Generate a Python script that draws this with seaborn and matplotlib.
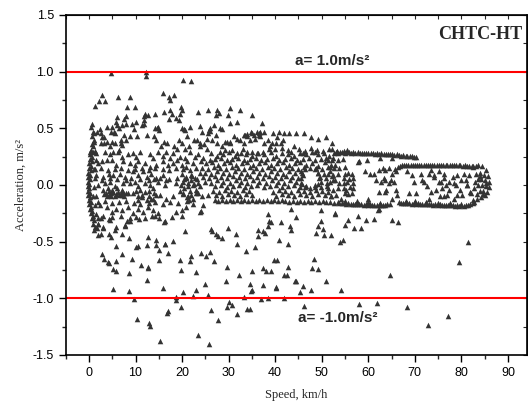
import pandas as pd
import seaborn as sns
import matplotlib.pyplot as plt
from matplotlib.ticker import MultipleLocator

sns.set_style('ticks')
plt.rcParams['font.family'] = ['Liberation Sans', 'DejaVu Sans']

# (speed km/h, acceleration m/s^2), grouped by region
upper_sparse = [
    (4.7, 0.99), (12.3, 1.0), (12.3, 0.96), (20.1, 0.93), (22.0, 0.915),
    (2.9, 0.79), (2.2, 0.745), (3.4, 0.745), (1.3, 0.70), (6.2, 0.775), (8.9, 0.775), (8.1, 0.685), (9.9, 0.685),
    (15.9, 0.815), (17.3, 0.775), (18.2, 0.795), (17.5, 0.75), (19.7, 0.685), (19.9, 0.66), (16.1, 0.645),
    (17.9, 0.625), (17.5, 0.66), (12.1, 0.63), (11.8, 0.61), (12.6, 0.62), (14.1, 0.625), (11.9, 0.57),
    (11.8, 0.54), (10.1, 0.56), (9.2, 0.535), (11.4, 0.53), (8.0, 0.61), (7.5, 0.58), (8.0, 0.54), (6.1, 0.60),
    (5.8, 0.56), (7.1, 0.53), (6.1, 0.53), (5.0, 0.515), (3.9, 0.515), (6.4, 0.50), (0.7, 0.54), (0.5, 0.515),
    (14.2, 0.50), (14.8, 0.515), (17.2, 0.58), (18.6, 0.59), (19.3, 0.57), (19.6, 0.63), (20.0, 0.505),
    (21.8, 0.515), (23.8, 0.52), (26.1, 0.505), (23.4, 0.64), (25.5, 0.66), (27.5, 0.66), (27.9, 0.635),
    (27.2, 0.62), (30.2, 0.68), (32.5, 0.66), (35.0, 0.62), (37.2, 0.55), (26.8, 0.53), (30.4, 0.545),
    (31.8, 0.56), (29.8, 0.62), (28.6, 0.49), (26.0, 0.48), (25.5, 0.46), (27.2, 0.44),
    (0.95, 0.47), (1.8, 0.47), (2.5, 0.455), (2.7, 0.42), (3.2, 0.42), (3.9, 0.38), (5.0, 0.38), (5.7, 0.37),
    (6.8, 0.37), (5.4, 0.47), (5.7, 0.455), (15.0, 0.485), (20.6, 0.485), (24.2, 0.47), (25.7, 0.485),
    (28.2, 0.50), (33.6, 0.44), (35.0, 0.455), (36.1, 0.47), (36.5, 0.44),
    (8.9, 0.43), (7.9, 0.40), (10.4, 0.43), (12.5, 0.44), (13.9, 0.43), (14.3, 0.40), (15.4, 0.34), (16.1, 0.38),
    (16.8, 0.37), (18.2, 0.34), (19.3, 0.40), (20.0, 0.37), (20.7, 0.32), (21.4, 0.34), (22.5, 0.40),
    (23.9, 0.34), (24.8, 0.36), (25.4, 0.32), (26.4, 0.40), (27.5, 0.37), (28.6, 0.34), (29.7, 0.38),
    (30.4, 0.37), (31.1, 0.43), (32.5, 0.40), (34.0, 0.43), (35.4, 0.44), (36.8, 0.47),
    (4.7, 0.47), (7.5, 0.44), (9.6, 0.49), (14.6, 0.50), (23.2, 0.40), (23.9, 0.37), (25.4, 0.41), (21.1, 0.43),
    (18.9, 0.32), (20.4, 0.49), (2.5, 0.37), (3.2, 0.37), (4.6, 0.34), (6.4, 0.31), (7.1, 0.35), (6.8, 0.40),
    (1.1, 0.46), (2.4, 0.49),
    (31.7, 0.41), (33.2, 0.44), (33.9, 0.45), (34.8, 0.47), (36.5, 0.46),
    (37.7, 0.47), (39.5, 0.46), (40.9, 0.47), (42.0, 0.46), (43.0, 0.46), (44.5, 0.455), (46.3, 0.455),
    (47.7, 0.425), (49.1, 0.41), (50.9, 0.42), (52.3, 0.37), (38.4, 0.40), (40.5, 0.425), (41.6, 0.40),
    (38.8, 0.34), (40.2, 0.37),
    (29.3, 0.38), (30.4, 0.38), (33.2, 0.37), (34.7, 0.40), (35.7, 0.41), (36.7, 0.43), (37.5, 0.37),
    (39.3, 0.37), (41.2, 0.37), (28.1, 0.29), (29.3, 0.31), (30.7, 0.31), (31.9, 0.28), (33.1, 0.32),
    (34.0, 0.29), (35.0, 0.29), (36.2, 0.28), (37.4, 0.29), (38.6, 0.32), (40.0, 0.32),
    (52.2, 0.32), (53.3, 0.30), (54.7, 0.30), (55.4, 0.31),
    (41.5, 0.33), (42.8, 0.31), (44.0, 0.34), (45.2, 0.32), (46.5, 0.30), (47.8, 0.33), (49.0, 0.31),
    (50.3, 0.30), (51.5, 0.32), (43.5, 0.29), (46.0, 0.28), (48.5, 0.29),
]

lower_sparse = [
    (1.9, -0.29), (1.9, -0.34), (1.65, -0.38), (2.6, -0.29), (4.4, -0.30), (2.0, -0.44), (2.6, -0.43),
    (3.1, -0.38), (4.4, -0.43), (4.7, -0.46), (5.7, -0.40), (7.0, -0.43), (7.7, -0.36), (8.1, -0.32),
    (8.8, -0.29), (8.6, -0.47), (10.8, -0.30), (12.7, -0.46), (14.2, -0.27), (14.5, -0.485), (16.2, -0.33),
    (16.4, -0.52), (18.1, -0.49), (20.7, -0.41), (26.5, -0.41), (27.2, -0.435), (27.7, -0.45), (28.5, -0.47),
    (29.9, -0.38), (31.5, -0.43), (31.7, -0.52), (33.7, -0.58), (35.7, -0.55), (36.3, -0.40), (36.3, -0.45),
    (37.4, -0.41), (37.9, -0.42), (38.5, -0.36), (39.0, -0.33), (41.3, -0.33), (40.8, -0.485), (42.8, -0.52),
    (43.1, -0.36), (43.5, -0.40),
    (2.9, -0.61), (3.2, -0.65), (4.2, -0.69), (5.9, -0.54), (5.8, -0.67), (7.0, -0.61), (9.2, -0.65),
    (10.1, -0.55), (10.6, -0.54), (12.5, -0.53), (14.4, -0.53), (15.1, -0.57), (15.1, -0.66), (16.3, -0.52),
    (17.0, -0.60), (19.5, -0.66), (21.8, -0.67), (22.0, -0.63), (24.0, -0.60), (25.1, -0.63), (26.1, -0.59),
    (26.9, -0.67), (29.7, -0.72), (32.3, -0.79), (35.0, -0.76), (37.4, -0.735), (38.0, -0.76), (39.2, -0.76),
    (39.7, -0.66), (40.3, -0.66), (42.8, -0.72), (42.0, -0.79), (42.5, -0.79),
    (5.2, -0.74), (5.8, -0.76), (8.6, -0.78), (11.1, -0.71), (12.6, -0.72), (12.6, -0.735), (12.5, -0.84),
    (15.8, -0.91), (19.7, -0.75), (22.9, -0.77), (25.0, -0.87), (29.4, -0.85), (34.7, -0.87), (34.9, -0.935),
    (35.1, -0.925), (37.3, -0.88), (40.1, -0.905), (44.3, -0.85), (4.0, -0.68),
    (5.2, -0.92), (8.6, -0.935), (9.6, -1.005), (18.8, -0.985), (18.7, -1.015), (20.1, -0.94), (22.4, -0.98),
    (23.1, -0.93), (25.6, -0.97), (30.1, -1.03), (30.8, -1.06), (33.2, -0.985), (36.9, -1.005), (38.4, -0.995),
    (41.9, -0.995), (29.7, -1.08), (26.3, -1.10), (27.7, -1.19), (31.8, -1.14), (34.0, -1.095), (34.6, -1.095),
    (19.8, -1.08), (17.0, -1.11), (16.7, -1.13), (10.4, -1.18), (12.9, -1.22), (13.1, -1.245), (15.2, -1.375),
    (23.5, -1.32), (25.8, -1.40),
    (44.5, -0.285), (49.3, -0.36), (50.3, -0.39), (48.8, -0.42), (50.4, -0.44), (52.1, -0.445), (49.8, -0.22),
    (52.9, -0.255), (55.6, -0.31), (55.0, -0.35), (57.0, -0.38), (58.4, -0.38), (59.5, -0.31), (61.3, -0.30),
    (65.1, -0.31), (66.3, -0.33), (62.2, -0.215), (54.6, -0.485), (54.0, -0.50), (81.4, -0.50), (48.3, -0.65),
    (48.0, -0.735), (49.1, -0.745), (44.5, -0.845), (45.9, -0.89), (45.4, -0.94), (47.8, -0.93), (50.9, -0.85),
    (54.2, -0.93), (64.6, -0.79), (79.5, -0.68), (58.0, -1.05), (61.8, -1.04), (68.4, -1.08), (77.1, -1.16),
    (72.9, -1.235), (46.3, -1.07), (43.5, -0.21), (40.2, -0.90),
    (23.8, -0.24), (24.5, -0.18), (25.6, -0.09), (23.5, -0.07), (24.2, -0.10), (38.5, -0.26), (38.7, -0.32),
    (49.9, -0.32), (26.3, -0.39), (24.0, -0.23),
]

left_band = [
    (1.0, 0.40), (0.6, 0.36), (0.9, 0.34), (0.4, 0.31), (0.8, 0.29), (0.3, 0.27), (0.7, 0.25), (0.2, 0.23),
    (0.6, 0.21), (0.1, 0.19), (0.5, 0.17), (0.0, 0.15), (0.4, 0.13), (-0.1, 0.11), (0.3, 0.09), (-0.2, 0.07),
    (0.2, 0.05), (-0.3, 0.03), (0.1, 0.01), (-0.3, -0.01), (0.1, -0.03), (-0.2, -0.05), (0.2, -0.07),
    (-0.1, -0.09), (0.3, -0.11), (0.0, -0.13), (0.4, -0.15), (0.1, -0.17), (0.5, -0.19), (0.2, -0.21),
    (0.6, -0.23), (0.4, -0.25), (0.8, -0.27), (0.6, -0.29), (1.0, -0.31), (0.9, -0.34), (1.3, -0.37),
    (1.1, -0.40), (1.3, 0.30), (1.5, 0.22), (1.2, 0.14), (1.4, 0.06), (1.1, -0.02), (1.5, -0.10),
    (1.2, -0.18), (1.6, -0.26), (1.1, 0.38), (0.7, 0.43),
]

left_cloud = [
    (0.2, 0.29), (1.6, 0.28), (3.4, 0.29), (4.5, 0.27), (5.2, 0.29), (6.3, 0.29), (7.0, 0.25), (8.4, 0.27),
    (9.5, 0.28), (10.2, 0.25), (10.9, 0.29), (13.1, 0.27), (13.8, 0.24), (14.9, 0.29), (16.6, 0.29),
    (18.1, 0.28), (19.5, 0.25), (20.6, 0.24), (21.6, 0.29), (22.7, 0.25),
    (2.0, 0.19), (2.7, 0.21), (3.8, 0.22), (4.9, 0.22), (5.9, 0.18), (7.4, 0.21), (8.8, 0.19), (9.9, 0.18),
    (10.6, 0.21), (12.0, 0.19), (13.1, 0.16), (14.5, 0.18), (15.9, 0.21), (17.0, 0.18), (18.1, 0.19),
    (19.9, 0.18), (20.9, 0.16), (22.4, 0.19),
    (1.6, 0.09), (3.1, 0.07), (4.2, 0.10), (5.2, 0.09), (6.6, 0.10), (7.7, 0.07), (9.5, 0.12), (10.6, 0.09),
    (11.7, 0.12), (12.4, 0.07), (13.4, 0.10), (14.5, 0.06), (15.9, 0.09), (16.6, 0.04), (19.9, 0.10),
    (20.9, 0.07), (22.0, 0.09), (22.7, 0.06),
    (2.0, 0.0), (3.4, 0.02), (4.5, 0.03), (5.6, -0.01), (7.4, 0.02), (8.8, 0.02), (9.9, 0.03), (10.6, -0.01),
    (12.0, 0.02), (13.1, 0.0), (13.8, -0.03), (14.9, 0.03), (16.3, 0.0), (18.8, 0.02), (20.2, 0.03),
    (21.3, -0.01), (22.4, 0.0),
    (3.1, -0.04), (3.6, -0.07), (4.2, -0.05), (4.7, -0.07), (5.2, -0.06), (5.8, -0.08), (6.3, -0.06),
    (6.8, -0.07), (7.4, -0.06), (7.9, -0.07), (3.2, -0.08), (4.4, -0.09), (5.6, -0.10), (7.0, -0.09),
    (8.4, -0.07), (4.0, -0.03), (5.0, -0.04), (6.0, -0.03), (7.0, -0.04), (6.5, -0.09), (4.8, -0.10),
    (3.8, -0.10), (7.6, -0.10),
    (0.9, -0.10), (9.5, -0.07), (10.6, -0.10), (11.3, -0.09), (12.4, -0.13), (13.4, -0.12), (14.1, -0.15),
    (15.2, -0.09), (16.6, -0.12), (18.1, -0.10), (20.2, -0.07), (21.3, -0.10), (22.4, -0.12), (23.1, -0.07),
    (10.0, -0.05), (11.0, -0.04), (12.0, -0.06), (13.0, -0.05), (14.0, -0.07), (10.5, -0.13), (11.5, -0.11),
    (12.8, -0.10), (13.8, -0.12), (14.5, -0.09),
    (2.4, -0.18), (3.8, -0.19), (4.9, -0.24), (5.9, -0.21), (7.0, -0.22), (8.4, -0.19), (9.5, -0.25),
    (10.6, -0.21), (11.7, -0.24), (12.7, -0.19), (13.8, -0.22), (14.9, -0.25), (18.8, -0.24), (19.9, -0.22),
    (20.9, -0.19),
    (2.0, -0.34), (3.1, -0.37), (4.5, -0.31), (5.9, -0.37), (7.7, -0.35), (8.8, -0.32), (16.3, -0.32),
    (1.0, 0.14), (2.6, 0.15), (4.0, 0.13), (5.5, 0.14), (6.9, 0.15), (8.3, 0.13), (9.8, 0.14), (11.4, 0.15),
    (12.9, 0.13), (14.2, 0.15), (15.8, 0.14), (17.3, 0.13), (18.7, 0.15), (20.1, 0.14), (21.6, 0.13),
    (23.0, 0.15),
    (2.7, 0.04), (4.6, 0.06), (6.0, 0.05), (8.0, 0.04), (9.0, 0.06), (11.0, 0.05), (12.8, 0.04), (14.0, 0.05),
    (15.3, 0.06), (17.2, 0.05), (18.9, 0.06), (20.5, 0.05), (21.9, 0.04), (23.3, 0.05),
    (2.0, -0.15), (3.5, -0.14), (5.0, -0.16), (6.5, -0.15), (8.0, -0.14), (9.6, -0.16), (11.0, -0.17),
    (13.0, -0.16), (15.8, -0.17), (17.5, -0.15), (19.2, -0.16), (21.0, -0.14), (22.3, -0.17),
    (3.0, -0.27), (5.0, -0.28), (6.8, -0.27), (10.0, -0.28), (12.0, -0.29), (13.5, -0.27), (15.0, -0.29),
    (17.8, -0.28), (20.0, -0.27),
    (19.8, 0.0), (20.5, -0.03), (21.2, 0.02), (21.8, -0.05), (22.5, 0.01), (20.2, -0.08), (21.0, -0.11),
    (22.0, -0.09), (23.0, -0.04), (20.8, 0.06), (22.2, 0.08), (23.4, 0.02), (19.5, -0.05), (21.5, -0.13),
    (16.0, 0.26), (17.5, 0.24), (19.0, 0.22), (21.0, 0.21), (23.5, 0.27), (24.0, 0.21), (23.8, 0.11),
    (23.9, -0.01),
]

mid_block = [
    (26.2, 0.28), (27.5, 0.26), (28.9, 0.27), (30.1, 0.29), (31.4, 0.26), (32.6, 0.28), (33.8, 0.27),
    (35.1, 0.26), (36.3, 0.28), (37.7, 0.27), (39.0, 0.29), (40.2, 0.26), (41.5, 0.28), (42.8, 0.27),
    (44.0, 0.26), (45.3, 0.28), (46.6, 0.27), (47.9, 0.29), (49.2, 0.27), (50.4, 0.28), (51.6, 0.26),
    (24.6, 0.24), (25.9, 0.22), (27.1, 0.23), (28.4, 0.24), (29.6, 0.22), (30.8, 0.23), (32.0, 0.24),
    (33.3, 0.22), (34.5, 0.23), (35.8, 0.24), (37.0, 0.22), (38.3, 0.23), (39.6, 0.24), (40.8, 0.22),
    (42.1, 0.23), (43.4, 0.24), (44.6, 0.22), (45.9, 0.23), (47.2, 0.24), (48.5, 0.22), (49.8, 0.23),
    (51.0, 0.24), (52.3, 0.22),
    (25.2, 0.19), (26.5, 0.20), (27.8, 0.18), (29.0, 0.19), (30.3, 0.20), (31.5, 0.18), (32.8, 0.19),
    (34.0, 0.20), (35.3, 0.18), (36.6, 0.19), (37.9, 0.20), (39.1, 0.18), (40.4, 0.19), (41.7, 0.20),
    (43.0, 0.18), (44.2, 0.19), (45.4, 0.20), (46.7, 0.18), (48.0, 0.19), (49.3, 0.17), (50.6, 0.20),
    (51.9, 0.18),
    (24.3, 0.15), (25.6, 0.14), (26.9, 0.16), (28.2, 0.15), (29.5, 0.14), (30.7, 0.16), (32.0, 0.15),
    (33.2, 0.14), (34.6, 0.16), (35.9, 0.15), (37.2, 0.14), (38.5, 0.16), (39.8, 0.15), (41.1, 0.14),
    (42.3, 0.16), (43.6, 0.15), (44.9, 0.14), (46.2, 0.16), (48.7, 0.15), (50.0, 0.14), (51.3, 0.16),
    (52.6, 0.15),
    (24.9, 0.11), (26.2, 0.10), (27.5, 0.12), (28.8, 0.11), (30.0, 0.10), (31.3, 0.12), (32.6, 0.11),
    (33.9, 0.10), (35.2, 0.12), (36.5, 0.11), (37.8, 0.10), (39.1, 0.12), (40.3, 0.11), (41.6, 0.10),
    (42.9, 0.12), (44.2, 0.11), (45.5, 0.12), (49.2, 0.11), (50.5, 0.10), (51.8, 0.12),
    (24.4, 0.07), (25.7, 0.06), (27.0, 0.08), (28.3, 0.07), (29.6, 0.06), (30.9, 0.08), (32.2, 0.07),
    (33.5, 0.06), (34.7, 0.08), (36.0, 0.07), (37.3, 0.06), (38.6, 0.08), (39.9, 0.07), (41.2, 0.06),
    (42.4, 0.08), (43.7, 0.07), (45.0, 0.06), (46.0, 0.09), (49.6, 0.07), (50.9, 0.06), (52.2, 0.08),
    (25.0, 0.03), (26.3, 0.02), (27.6, 0.04), (28.9, 0.03), (30.2, 0.02), (31.5, 0.04), (32.7, 0.03),
    (34.0, 0.02), (35.3, 0.04), (36.6, 0.03), (38.0, 0.02), (39.3, 0.04), (40.6, 0.03), (41.9, 0.02),
    (43.2, 0.04), (44.5, 0.03), (45.6, 0.02), (49.9, 0.03), (51.2, 0.02), (52.5, 0.04),
    (27.1, -0.01), (28.4, 0.0), (29.7, -0.02), (31.0, -0.01), (32.3, 0.0), (33.6, -0.02), (34.9, -0.01),
    (36.2, 0.0), (37.5, -0.02), (38.8, -0.01), (40.1, 0.0), (41.4, -0.02), (42.7, -0.01), (44.0, 0.0),
    (45.3, -0.02), (46.6, -0.01), (48.5, 0.0), (49.8, -0.02), (51.1, -0.01),
    (26.6, -0.05), (27.9, -0.06), (29.2, -0.04), (30.5, -0.05), (31.8, -0.06), (33.1, -0.04), (34.4, -0.05),
    (39.6, -0.06), (40.9, -0.04), (42.2, -0.05), (43.5, -0.06), (44.8, -0.04), (46.1, -0.05), (47.4, -0.06),
    (48.7, -0.04), (50.0, -0.05), (51.3, -0.06),
    (27.2, -0.09), (28.5, -0.10), (29.8, -0.08), (31.1, -0.09), (32.4, -0.10), (33.7, -0.08), (35.0, -0.09),
    (40.2, -0.10), (41.5, -0.08), (42.8, -0.09), (44.1, -0.10), (45.4, -0.08), (46.7, -0.09), (48.0, -0.10),
    (49.3, -0.08), (50.6, -0.09), (51.9, -0.10),
    (27.0, -0.13), (27.8, -0.14), (28.6, -0.13), (29.4, -0.14), (30.2, -0.13), (31.0, -0.14), (31.8, -0.13),
    (32.6, -0.14), (33.4, -0.13), (34.2, -0.14), (35.0, -0.13), (35.8, -0.14), (36.6, -0.13), (37.4, -0.14),
    (38.2, -0.13), (39.0, -0.14), (39.8, -0.13), (40.6, -0.14), (41.4, -0.13), (42.2, -0.14), (43.0, -0.15),
    (43.8, -0.14), (44.6, -0.15), (45.4, -0.14), (46.2, -0.15), (47.0, -0.14), (47.8, -0.15), (48.6, -0.14),
    (49.4, -0.15), (50.2, -0.14), (51.0, -0.15), (51.8, -0.15), (52.6, -0.16), (53.4, -0.15),
    (45.5, 0.06), (45.8, 0.11), (46.5, 0.14), (47.5, 0.15), (48.5, 0.14), (49.2, 0.11), (49.5, 0.06),
    (49.2, 0.01), (48.5, -0.02), (47.5, -0.03), (46.5, -0.02), (45.8, 0.01),
]

top_track = [
    (52.6, 0.285), (53.0, 0.29), (53.5, 0.285), (54.0, 0.29), (54.4, 0.29), (54.9, 0.285), (55.4, 0.29),
    (55.8, 0.29), (56.3, 0.285), (56.8, 0.29), (57.2, 0.285), (57.7, 0.29), (58.2, 0.285), (58.6, 0.28),
    (59.1, 0.285), (59.6, 0.28), (60.0, 0.285), (60.5, 0.28), (61.0, 0.28), (61.4, 0.275), (61.9, 0.28),
    (62.4, 0.275), (62.8, 0.28), (63.3, 0.275), (63.8, 0.27), (64.2, 0.275), (64.7, 0.27), (65.2, 0.27),
    (65.6, 0.265), (66.1, 0.27), (66.6, 0.265), (67.0, 0.26), (67.5, 0.265), (68.0, 0.26), (68.4, 0.26),
    (68.9, 0.255), (69.4, 0.255), (69.8, 0.25), (70.3, 0.25),
]

middle_zone = [
    (51.3, 0.22), (52.4, 0.235), (53.5, 0.22), (54.6, 0.23), (51.7, 0.16), (52.8, 0.18), (53.8, 0.15),
    (54.9, 0.16), (51.3, 0.10), (52.4, 0.09), (53.5, 0.10), (51.7, 0.03), (52.8, 0.04), (53.8, 0.015),
    (51.3, -0.03), (52.4, -0.04), (53.5, -0.03), (52.1, -0.10), (53.1, -0.09), (54.2, -0.12),
    (55.0, 0.10), (55.7, 0.11), (56.4, 0.10), (56.7, 0.06), (56.8, 0.015), (56.7, -0.03), (56.4, -0.07),
    (55.7, -0.08), (55.0, -0.07), (54.8, -0.03), (54.7, 0.015), (54.8, 0.06), (55.4, 0.03), (56.0, -0.02),
    (55.9, 0.05), (55.3, -0.04),
    (58.1, 0.21), (57.9, 0.20), (59.2, 0.12), (60.3, 0.10), (61.3, 0.10), (62.4, 0.13), (63.1, 0.15),
    (61.7, 0.044), (62.8, 0.03), (63.5, 0.044), (62.4, -0.06), (63.8, -0.044), (59.9, -0.12), (62.1, -0.22),
    (57.8, -0.27), (52.8, -0.25), (59.8, 0.22), (62.6, 0.235), (65.1, 0.235), (64.4, 0.15), (63.7, 0.13),
    (65.0, 0.10), (63.4, 0.06), (64.8, 0.04), (64.4, 0.015), (65.5, 0.03), (63.7, -0.06), (65.9, -0.04),
    (66.2, -0.09), (65.1, -0.12),
    (53.8, -0.16), (54.3, -0.155), (54.8, -0.16), (55.3, -0.165), (55.7, -0.16), (56.2, -0.165),
    (56.7, -0.17), (57.1, -0.165), (57.6, -0.17), (58.1, -0.165), (58.5, -0.17), (59.0, -0.175),
    (59.5, -0.17), (59.9, -0.175), (60.4, -0.17), (60.9, -0.175), (61.3, -0.18), (61.8, -0.175),
    (62.3, -0.18), (62.7, -0.175), (63.2, -0.18), (63.7, -0.175), (64.1, -0.17), (64.6, -0.165),
    (55.0, -0.14), (57.5, -0.145), (60.0, -0.15), (62.5, -0.155),
]

tube_upper = [
    (65.8, 0.14), (66.0, 0.12), (66.3, 0.16), (66.8, 0.17), (67.2, 0.175), (67.7, 0.18), (68.2, 0.175),
    (68.6, 0.18), (69.1, 0.175), (69.6, 0.18), (70.0, 0.175), (70.5, 0.18), (71.0, 0.175), (71.4, 0.18),
    (71.9, 0.175), (72.4, 0.18), (72.8, 0.175), (73.3, 0.18), (73.8, 0.175), (74.2, 0.18), (74.7, 0.175),
    (75.2, 0.18), (75.6, 0.175), (76.1, 0.18), (76.6, 0.175), (77.0, 0.18), (77.5, 0.175), (78.0, 0.18),
    (78.4, 0.175), (78.9, 0.18), (79.4, 0.175), (79.8, 0.175), (80.3, 0.17), (80.8, 0.175), (81.2, 0.17),
    (81.7, 0.17), (82.2, 0.165), (82.6, 0.17), (83.1, 0.165),
]

tube_lower = [
    (66.5, -0.15), (67.0, -0.155), (67.4, -0.16), (67.9, -0.16), (68.4, -0.155), (68.8, -0.16),
    (69.3, -0.165), (69.8, -0.16), (70.2, -0.165), (70.7, -0.16), (71.2, -0.165), (71.6, -0.17),
    (72.1, -0.165), (72.6, -0.17), (73.0, -0.165), (73.5, -0.17), (74.0, -0.175), (74.4, -0.17),
    (74.9, -0.175), (75.4, -0.17), (75.8, -0.175), (76.3, -0.18), (76.8, -0.175), (77.2, -0.18),
    (77.7, -0.175), (78.2, -0.18), (78.6, -0.185), (79.1, -0.18), (79.6, -0.185), (80.0, -0.18),
    (80.5, -0.185), (81.0, -0.18), (81.4, -0.175), (81.9, -0.17), (82.4, -0.16), (82.8, -0.15),
    (68.0, -0.14), (70.0, -0.145), (72.5, -0.15), (75.0, -0.155), (77.5, -0.16), (80.0, -0.165),
]

tube_end = [
    (82.5, 0.16), (83.5, 0.175), (84.5, 0.17), (85.3, 0.13), (85.8, 0.08), (86.0, 0.03), (85.9, -0.02),
    (85.6, -0.06), (85.0, -0.09), (84.2, -0.11), (83.3, -0.12), (82.5, -0.13),
    (83.2, 0.10), (84.0, 0.11), (84.9, 0.09), (83.5, 0.05), (84.3, 0.05), (85.1, 0.04), (83.6, 0.0),
    (84.4, 0.0), (85.2, -0.01), (83.9, -0.05), (84.7, -0.05), (83.0, 0.03), (82.8, -0.03), (84.0, 0.08),
    (84.6, -0.08), (85.4, 0.02), (83.3, -0.08),
]

tube_inner = [
    (68.4, 0.12), (69.5, 0.09), (71.3, 0.10), (72.0, 0.03), (73.4, 0.13), (74.1, 0.07), (75.2, 0.12),
    (75.6, 0.03), (76.3, 0.10), (77.4, 0.03), (78.1, 0.07), (78.8, 0.0), (79.9, 0.04), (80.6, 0.10),
    (81.3, 0.0), (82.0, -0.07), (70.2, -0.07), (73.4, -0.06), (76.3, -0.10), (79.1, -0.09),
    (68.7, -0.07), (69.8, 0.03), (71.6, 0.04), (72.6, -0.01), (73.0, 0.10), (74.1, 0.09), (75.1, 0.03),
    (74.6, -0.04), (75.9, -0.03), (76.2, 0.06), (76.6, 0.0), (77.3, -0.04), (77.0, -0.09), (78.4, 0.015),
    (79.1, 0.09), (79.8, -0.04), (80.2, -0.09), (80.9, 0.04), (81.2, 0.0), (81.6, 0.09), (73.0, -0.12),
    (75.5, -0.10), (78.4, -0.12), (81.9, -0.06),
]

groups = [upper_sparse, lower_sparse, left_band, left_cloud, mid_block,
          top_track, middle_zone, tube_upper, tube_lower, tube_end, tube_inner]
df = pd.DataFrame([p for g in groups for p in g], columns=['speed', 'accel'])

fig = plt.figure(figsize=(5.28, 4.07), dpi=100)
ax = fig.add_axes([0.1244, 0.1278, 0.8737, 0.8354])
sns.scatterplot(x='speed', y='accel', data=df, marker='^', s=16, color='#333333',
                linewidth=0, legend=False, ax=ax)
ax.axhline(1.0, color='red', lw=1.5, zorder=1)
ax.axhline(-1.0, color='red', lw=1.5, zorder=1)

ax.set_xlim(-5, 94.1)
ax.set_ylim(-1.5, 1.5)
ax.xaxis.set_major_locator(MultipleLocator(10))
ax.xaxis.set_minor_locator(MultipleLocator(5))
ax.yaxis.set_major_locator(MultipleLocator(0.5))
ax.yaxis.set_minor_locator(MultipleLocator(0.25))
ax.yaxis.set_major_formatter(plt.FormatStrFormatter('%.1f'))
ax.tick_params(which='major', direction='out', length=5, width=1, labelsize=9, colors='black')
ax.tick_params(which='minor', direction='out', length=3, width=1)
for s in ax.spines.values():
    s.set_visible(True)
    s.set_linewidth(1.2)
    s.set_color('black')

top = ax.secondary_xaxis('top')
top.xaxis.set_major_locator(MultipleLocator(5))
top.tick_params(direction='in', length=3, width=0.8, labeltop=False)
right = ax.secondary_yaxis('right')
right.yaxis.set_major_locator(MultipleLocator(0.25))
right.tick_params(direction='in', length=3, width=0.8, labelright=False)

ax.set_xlabel('Speed, km/h', family='Liberation Serif', fontsize=9, labelpad=7)
ax.set_ylabel('Acceleration, m/s²', family='Liberation Serif', fontsize=9, labelpad=4)

ax.text(44.3, 1.06, 'a= 1.0m/s²', fontsize=11, fontweight='bold', va='baseline')
ax.text(45.0, -1.21, 'a= -1.0m/s²', fontsize=11, fontweight='bold', va='baseline')
ax.text(0.99, 0.944, 'CHTC-HT', transform=ax.transAxes, ha='right', va='center',
        family='Liberation Serif', fontweight='bold', fontsize=13)

plt.savefig('out.png', dpi=100)
